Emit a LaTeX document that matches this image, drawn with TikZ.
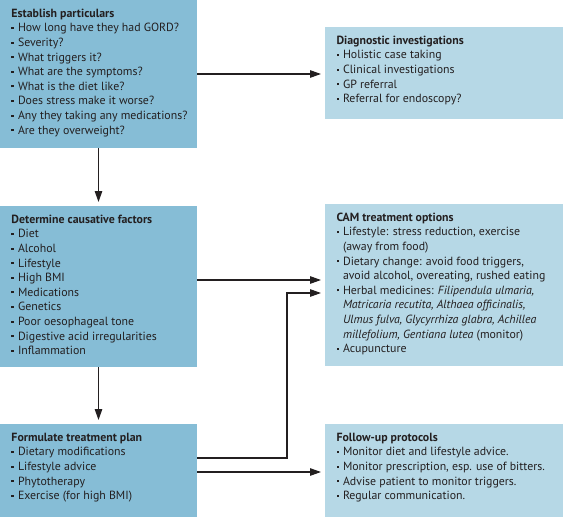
\documentclass[tikz,border=0pt]{standalone}
\usepackage{fontspec}
\setmainfont{PT Sans}
\usetikzlibrary{arrows.meta,calc}
\definecolor{darkbox}{RGB}{134,189,214}
\definecolor{lightbox}{RGB}{182,216,230}
\definecolor{ink}{RGB}{35,31,32}
\newcommand\bdot{\makebox[6.5pt][l]{\raisebox{2.9pt}{\rule{2.1pt}{2.1pt}}}}
\newcommand\cont{\hspace*{6.5pt}}
\newcommand\boxtext[3]{\begin{minipage}[t][#2pt][t]{#1pt}\fontsize{11.85}{14.6}\selectfont\parindent=0pt\leftskip=11.5pt\rightskip=0pt plus 1fil\rule{0pt}{17.3pt}#3\end{minipage}}
\begin{document}
\begin{tikzpicture}[x=1pt,y=-1pt,
  box/.style={inner sep=0pt, outer sep=0pt, anchor=north west, text=ink},
  lbox/.style={box, fill=darkbox},
  rbox/.style={box, fill=lightbox},
  conn/.style={draw=ink, line width=1.2pt, -{Triangle[length=11pt,width=7.5pt]}, shorten >=4pt}]
\useasboundingbox (0,0) rectangle (563,517);
\node[lbox] (est) at (0,0) {\boxtext{197}{148}{\textbf{Establish particulars}\par
\bdot How long have they had GORD?\par
\bdot Severity?\par
\bdot What triggers it?\par
\bdot What are the symptoms?\par
\bdot What is the diet like?\par
\bdot Does stress make it worse?\par
\bdot Any they taking any medications?\par
\bdot Are they overweight?}};
\node[lbox] (cause) at (0,206) {\boxtext{197}{161}{\textbf{Determine causative factors}\par
\bdot Diet\par
\bdot Alcohol\par
\bdot Lifestyle\par
\bdot High BMI\par
\bdot Medications\par
\bdot Genetics\par
\bdot Poor oesophageal tone\par
\bdot Digestive acid irregularities\par
\bdot Inflammation}};
\node[lbox] (plan) at (0,424) {\boxtext{197}{93}{\textbf{Formulate treatment plan}\par
\bdot Dietary modifications\par
\bdot Lifestyle advice\par
\bdot Phytotherapy\par
\bdot Exercise (for high BMI)}};
\node[rbox] (diag) at (325,27) {\boxtext{238}{92}{\textbf{Diagnostic investigations}\par
\bdot Holistic case taking\par
\bdot Clinical investigations\par
\bdot GP referral\par
\bdot Referral for endoscopy?}};
\node[rbox] (cam) at (325,204) {\boxtext{238}{162}{\textbf{CAM treatment options}\par
\bdot Lifestyle: stress reduction, exercise\par
\cont (away from food)\par
\bdot Dietary change: avoid food triggers,\par
\cont avoid alcohol, overeating, rushed eating\par
\bdot Herbal medicines: \textit{Filipendula ulmaria,}\par
\cont \textit{Matricaria recutita, Althaea officinalis,}\par
\cont \textit{Ulmus fulva, Glycyrrhiza glabra, Achillea}\par
\cont \textit{millefolium, Gentiana lutea} (monitor)\par
\bdot Acupuncture}};
\node[rbox] (follow) at (325,424) {\boxtext{238}{93}{\textbf{Follow-up protocols}\par
\bdot Monitor diet and lifestyle advice.\par
\bdot Monitor prescription, esp. use of bitters.\par
\bdot Advise patient to monitor triggers.\par
\bdot Regular communication.}};
\coordinate (c1) at ($(cause.north east)+(0,74)$);
\coordinate (p1) at ($(plan.north east)+(0,34)$);
\coordinate (p2) at ($(plan.north east)+(0,48)$);
\coordinate (bend) at (287,293);
\draw[conn] (est.east) -- (est.east -| diag.west);
\draw[conn] (est.south) -- (cause.north);
\draw[conn] (cause.south) -- (plan.north);
\draw[conn] (c1) -- (c1 -| cam.west);
\draw[conn] (p1) -| (bend) -- (bend -| cam.west);
\draw[conn] (p2) -- (p2 -| follow.west);
\end{tikzpicture}
\end{document}
